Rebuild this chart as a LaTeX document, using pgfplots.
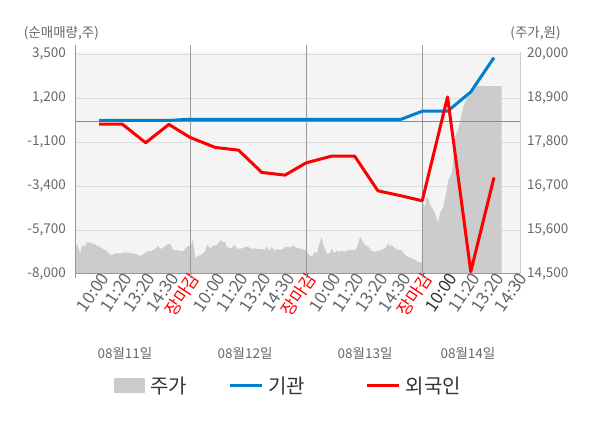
\documentclass[border=0pt]{standalone}
\usepackage{pgfplots}
\pgfplotsset{compat=1.18}
\usepackage{fontspec}
\setmainfont{Noto Sans CJK KR}
\definecolor{panel}{HTML}{F4F4F4}
\definecolor{gridc}{HTML}{DDDDDD}
\definecolor{linec}{HTML}{999999}
\definecolor{rlinec}{HTML}{CCCCCC}
\definecolor{zeroc}{HTML}{8C8C8C}
\definecolor{areac}{HTML}{CCCCCC}
\definecolor{bluec}{HTML}{0080CC}
\definecolor{redc}{HTML}{FF0000}
\definecolor{tickc}{HTML}{666666}
\definecolor{darkc}{HTML}{333333}
\newcommand{\ticfont}{\fontsize{13.5}{16}\selectfont}
\newcommand{\xticfont}{\fontsize{17}{19}\selectfont}
\pgfplotsset{
  lineleg/.style={legend image code/.code={\draw[##1] (0pt,0pt) -- (32pt,0pt);}},
  boxleg/.style={legend image code/.code={\fill[##1] (0pt,-7.5pt) rectangle (31pt,7.5pt);}},
}
\begin{document}
\begin{tikzpicture}
\path[use as bounding box] (0,0) rectangle (600pt,428pt);
% right axis: price area
\begin{axis}[at={(76pt,154pt)}, anchor=south west, scale only axis,
  width=444pt, height=222pt,
  xmin=0, xmax=19.12, ymin=14500, ymax=20057.6,
  axis background/.style={fill=panel},
  axis x line=none, axis y line*=right,
  y axis line style={rlinec, line width=1pt, -},
  scaled y ticks=false,
  ytick={14500,15600,16700,17800,18900,20000},
  yticklabels={{14,500},{15,600},{16,700},{17,800},{18,900},{20,000}},
  ymajorgrids, major grid style={gridc, line width=1pt},
  major tick length=0pt,
  yticklabel style={font=\ticfont, text=tickc, anchor=west, inner sep=0pt, xshift=7pt},
  clip=true]
\addplot[fill=areac, draw=none] coordinates {
(0,14500) (0,15225) (0.058,15242) (0.115,15125) (0.173,15017) (0.23,15142) (0.288,15225)
(0.388,15183) (0.46,15292) (0.575,15292) (0.69,15267) (0.804,15242) (0.89,15208)
(1.034,15175) (1.178,15125) (1.321,15075) (1.465,14975) (1.608,14992) (1.752,15025)
(1.895,15008) (2.039,15033) (2.182,15033) (2.326,15025) (2.47,15008) (2.613,14992)
(2.757,14950) (2.9,14992) (3.044,15058) (3.187,15075) (3.331,15100) (3.474,15158)
(3.546,15208) (3.618,15125) (3.761,15158) (3.905,15225) (4.049,15258) (4.12,15175)
(4.192,15100) (4.336,15100) (4.479,15075) (4.623,15075) (4.766,15183) (4.881,15200)
(4.968,15225) (5.025,15392) (5.082,15142) (5.14,14892) (5.269,14958) (5.412,14992)
(5.556,15058) (5.656,15242) (5.771,15142) (5.915,15208) (6.058,15225) (6.23,15350)
(6.345,15292) (6.417,15308) (6.489,15183) (6.561,15158) (6.704,15142) (6.819,15242)
(6.919,15142) (7.063,15125) (7.207,15158) (7.278,15183) (7.422,15175) (7.565,15125)
(7.709,15142) (7.853,15125) (7.996,15125) (8.14,15108) (8.254,15183) (8.312,15075)
(8.427,15183) (8.541,15075) (8.642,15125) (8.786,15100) (8.929,15125) (9.03,15183)
(9.216,15167) (9.36,15208) (9.503,15158) (9.719,15125) (9.862,15100)
(9.977,15017) (10.078,14958) (10.178,14933) (10.264,15058) (10.365,15017) (10.465,15225)
(10.58,15433) (10.652,15225) (10.724,15125) (10.795,15017) (10.939,15017) (11.01,15142)
(11.082,15058) (11.154,15017) (11.226,15100) (11.298,15058) (11.441,15075) (11.585,15058)
(11.728,15100) (11.872,15100) (12.016,15100) (12.13,15208) (12.231,15433) (12.303,15350)
(12.446,15225) (12.59,15183) (12.733,15075) (12.877,15058) (13.02,15075) (13.164,15100)
(13.308,15142) (13.451,15267) (13.523,15183) (13.595,15225) (13.738,15142) (13.882,15100)
(14.025,15100) (14.169,14975) (14.313,14933) (14.456,14892) (14.6,14850) (14.743,14808)
(14.887,14783)
(14.945,16267) (15.03,16183) (15.102,16433) (15.174,16392) (15.246,16225) (15.318,16183)
(15.39,16100) (15.461,16017) (15.533,15892) (15.605,15767) (15.634,15892) (15.677,16017)
(15.748,16100) (15.82,16183) (15.892,16392) (15.964,16600) (16.036,16850) (16.107,16933)
(16.179,17017) (16.251,17350) (16.323,17933) (16.394,18017) (16.466,18142) (16.538,18308)
(16.61,18517) (16.682,18683) (16.753,18808) (16.825,18892) (16.897,18975) (17.04,19058)
(17.184,19167) (17.256,19200) (18.332,19200) (18.332,14500)
} \closedcycle;
\end{axis}
% left axis: net buying
\begin{axis}[at={(76pt,154pt)}, anchor=south west, scale only axis,
  width=444pt, height=229pt,
  xmin=0, xmax=19.12, ymin=-8000, ymax=3986.8,
  axis x line*=bottom, axis y line*=left,
  every outer x axis line/.append style={-},
  every outer y axis line/.append style={-},
  axis line style={linec, line width=1pt, -},
  scaled y ticks=false,
  ytick={-8000,-5700,-3400,-1100,1200,3500},
  yticklabels={{-8,000},{-5,700},{-3,400},{-1,100},{1,200},{3,500}},
  yticklabel style={font=\ticfont, text=tickc, anchor=east, inner sep=0pt, xshift=-10pt},
  xtick={1,2,3,4,4.91,6,7,8,9,9.91,11,12,13,14,14.91,16,17,18,19},
  xticklabels={10:00,11:20,13:20,14:30,\textcolor{redc}{장마감},10:00,11:20,13:20,14:30,\textcolor{redc}{장마감},10:00,11:20,13:20,14:30,\textcolor{redc}{장마감},\textcolor{darkc}{10:00},11:20,13:20,14:30},
  xticklabel style={font=\xticfont, text=tickc, rotate=56, anchor=east, inner sep=1pt, xshift=3.5pt, yshift=-5pt},
  major tick length=0pt,
  extra x ticks={0,4.91,9.91,14.91},
  extra x tick labels={},
  extra x tick style={grid=major, major grid style={linec, line width=1pt},
    major tick length=4pt, tick align=outside, tick style={linec, line width=1pt}},
  extra y ticks={0}, extra y tick labels={},
  extra y tick style={grid=major, major grid style={zeroc, line width=1pt}},
  clip=false,
  legend columns=3,
  legend style={at={(0.079,-0.489)}, anchor=west, draw=none, fill=none,
    font=\fontsize{20}{22}\selectfont, text=darkc,
    /tikz/every odd column/.append style={column sep=3pt},
    /tikz/column 2/.style={column sep=39pt},
    /tikz/column 4/.style={column sep=59pt}},
  ]
\addlegendimage{fill=areac, draw=none, boxleg}
\addlegendentry{주가}
\addplot[bluec, line width=3pt, line join=round, lineleg] coordinates {
(1,40) (2,40) (3,40) (4,40) (4.91,100) (6,100) (7,100) (8,100) (9,100) (9.91,100)
(11,100) (12,100) (13,100) (14,100) (14.91,520) (16,520) (17,1530) (18,3327)
};
\addlegendentry{기관}
\addplot[redc, line width=3pt, line join=round, lineleg] coordinates {
(1,-159) (2,-159) (3,-1130) (4,-170) (4.91,-850) (6,-1377) (7,-1518) (8,-2684)
(9,-2825) (9.91,-2182) (11,-1832) (12,-1832) (13,-3645) (14,-3907) (14.91,-4168)
(16,1268) (17,-7878) (18,-2947)
};
\addlegendentry{외국인}
\node[font=\fontsize{13.5}{16}\selectfont, text=tickc] at (rel axis cs:-0.033,1.052) {(순매매량,주)};
\node[font=\fontsize{13.5}{16}\selectfont, text=tickc] at (rel axis cs:1.035,1.052) {(주가,원)};
\node[font=\fontsize{13.5}{16}\selectfont, text=tickc] at ({axis cs:2.11,0}|-{rel axis cs:0,-0.345}) {08월11일};
\node[font=\fontsize{13.5}{16}\selectfont, text=tickc] at ({axis cs:7.28,0}|-{rel axis cs:0,-0.345}) {08월12일};
\node[font=\fontsize{13.5}{16}\selectfont, text=tickc] at ({axis cs:12.45,0}|-{rel axis cs:0,-0.345}) {08월13일};
\node[font=\fontsize{13.5}{16}\selectfont, text=tickc] at ({axis cs:16.88,0}|-{rel axis cs:0,-0.345}) {08월14일};
\end{axis}
\end{tikzpicture}
\end{document}
